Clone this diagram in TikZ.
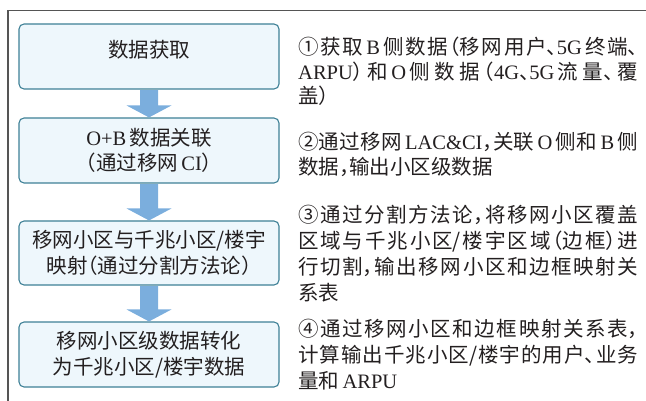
\documentclass[tikz,border=0pt]{standalone}
\usepackage{fontspec}
\setmainfont{Noto Sans CJK SC}[RawFeature=+halt]
\newfontfamily\latf{Liberation Serif}
\newcommand\latn[1]{{\latf #1}}
\XeTeXlinebreaklocale "zh"
\XeTeXlinebreakskip=0pt plus 4pt minus 0.5pt
\usetikzlibrary{calc}
\definecolor{boxc}{HTML}{3E8096}
\definecolor{fillc}{HTML}{EEF7FC}
\definecolor{arrowc}{HTML}{7BAEDD}
\definecolor{framec}{HTML}{555555}
\definecolor{textc}{HTML}{231F20}
\tikzset{
  stepbox/.style={draw=boxc, fill=fillc, rounded corners=5pt, line width=1.1pt,
    minimum width=260pt, minimum height=65pt, inner sep=0pt, align=center,
    text=textc, font=\fontsize{20.5}{25.5}\selectfont},
  desc/.style={anchor=base west, text width=340pt, align=justify, inner sep=0pt,
    text=textc, font=\fontsize{20.5}{25}\selectfont},
}
\newcommand\fatarrow[2]{%
  \fill[arrowc] ($(#1.south)+(-9,0.6)$) -- ($(#2.north)+(-9,-12)$) -- ($(#2.north)+(-22.5,-12)$)
    -- (#2.north) -- ($(#2.north)+(22.5,-12)$) -- ($(#2.north)+(9,-12)$) -- ($(#1.south)+(9,0.6)$) -- cycle;}
\begin{document}
\begin{tikzpicture}[x=1pt,y=-1pt]
\useasboundingbox (0,0) rectangle (646,401);
\draw[framec, line width=1.3pt] (646,10.5) -- (8,10.5) -- (8,401);

\node[stepbox, minimum height=65pt, text height=2.6pt, text depth=0pt] (b1) at (149,56.5) {数据获取};
\node[stepbox] (b2) at (149,150.5) {\latn{O+B}\,数据关联\\（通过移网\,\latn{CI}）};
\node[stepbox, minimum height=64pt] (b3) at (149,253) {移网小区与千兆小区/楼宇\\映射（通过分割方法论）};
\node[stepbox] (b4) at (149,354.5) {移网小区级数据转化\\为千兆小区/楼宇数据};

\fatarrow{b1}{b2}
\fatarrow{b2}{b3}
\fatarrow{b3}{b4}

\node[desc, font=\fontsize{20.5}{24.5}\selectfont] (t1) at (298,55) {①获取\,\latn{B}\,侧数据（移网用户、\latn{5G}\,终端、\linebreak \latn{ARPU}）和\,\latn{O}\,侧数据（\latn{4G}、\latn{5G}\,流量、覆\linebreak 盖）};
\node[desc] (t2) at (298,150) {②通过移网\,\latn{LAC\&CI}，关联\,\latn{O}\,侧和\,\latn{B}\,侧\linebreak 数据，输出小区级数据};
\node[desc, font=\fontsize{20.5}{26}\selectfont] (t3) at (298,223) {③通过分割方法论，将移网小区覆盖\linebreak 区域与千兆小区/楼宇区域（边框）进\linebreak 行切割，输出移网小区和边框映射关\linebreak 系表};
\node[desc, font=\fontsize{20.5}{26}\selectfont] (t4) at (298,336) {④通过移网小区和边框映射关系表，\linebreak 计算输出千兆小区/楼宇的用户、业务\linebreak 量和\,\latn{ARPU}};
\end{tikzpicture}
\end{document}
